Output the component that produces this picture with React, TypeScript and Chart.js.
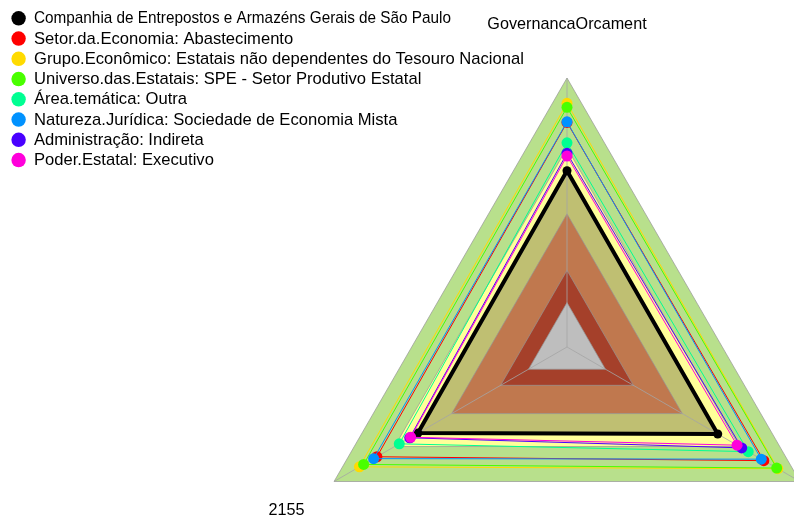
import React, { useEffect, useRef } from 'react';
import { Chart, registerables } from 'chart.js';

Chart.register(...registerables);

// Axis labels in clockwise order: top, bottom-right (off-canvas), bottom-left
const axisLabels = ['GovernancaOrcament', 'Indicador', '2155'];

const seriesNames = [
  'Companhia de Entrepostos e Armazéns Gerais de São Paulo',
  'Setor.da.Economia: Abastecimento',
  'Grupo.Econômico: Estatais não dependentes do Tesouro Nacional',
  'Universo.das.Estatais: SPE - Setor Produtivo Estatal',
  'Área.temática: Outra',
  'Natureza.Jurídica: Sociedade de Economia Mista',
  'Administração: Indireta',
  'Poder.Estatal: Executivo',
];

const seriesColors = ['#000000', '#FF0000', '#FFDB00', '#49FF00', '#00FF92', '#0092FF', '#4900FF', '#FF00DB'];

// values: [top, bottom-right, bottom-left]
const companhia = [65.5, 64.7, 64.0];
const setor = [83.5, 84.5, 81.6];
const grupo = [90.6, 90.5, 89.1];
const universo = [89.1, 90.0, 87.3];
const areaTematica = [75.9, 77.8, 72.0];
const natureza = [83.7, 83.4, 83.0];
const administracao = [72.0, 75.0, 67.5];
const poder = [71.0, 73.0, 67.1];

const seriesValues = [companhia, setor, grupo, universo, areaTematica, natureza, administracao, poder];

// background bands (upper limit of each band, inner to outer)
const bandLimits = [16.5, 28.5, 49.5, 64.5, 74, 100];
const bandColors = ['#BEBEBE', '#A5402A', '#C0784E', '#BFBF72', '#FFFF99', '#B8E08C'];

const FONT = "'Liberation Sans', Arial, sans-serif";

const bandsPlugin = {
  id: 'bands',
  beforeDatasetsDraw(chart: any) {
    const scale = chart.scales.r;
    const ctx = chart.ctx;
    const n = chart.data.labels.length;
    ctx.save();
    for (let b = bandLimits.length - 1; b >= 0; b--) {
      const dist = scale.getDistanceFromCenterForValue(bandLimits[b]);
      ctx.beginPath();
      for (let i = 0; i < n; i++) {
        const p = scale.getPointPosition(i, dist);
        if (i === 0) ctx.moveTo(p.x, p.y);
        else ctx.lineTo(p.x, p.y);
      }
      ctx.closePath();
      ctx.fillStyle = bandColors[b];
      ctx.fill();
      ctx.lineWidth = 1;
      ctx.strokeStyle = 'rgba(150,150,150,0.7)';
      ctx.stroke();
    }
    ctx.strokeStyle = 'rgba(165,165,165,0.8)';
    ctx.lineWidth = 1;
    for (let i = 0; i < n; i++) {
      const p = scale.getPointPosition(i, scale.drawingArea);
      ctx.beginPath();
      ctx.moveTo(scale.xCenter, scale.yCenter);
      ctx.lineTo(p.x, p.y);
      ctx.stroke();
    }
    ctx.restore();
  },
  afterDatasetsDraw(chart: any) {
    const scale = chart.scales.r;
    const ctx = chart.ctx;
    ctx.save();
    // axis labels
    ctx.font = `16.2px ${FONT}`;
    ctx.fillStyle = '#000';
    ctx.textAlign = 'center';
    ctx.textBaseline = 'middle';
    chart.data.labels.forEach((lbl: string, i: number) => {
      const p = scale.getPointPosition(i, scale.drawingArea + 55);
      ctx.fillText(lbl, p.x, p.y + 2);
    });
    // legend
    ctx.font = `16.6px ${FONT}`;
    ctx.textAlign = 'left';
    chart.data.datasets.forEach((ds: any, i: number) => {
      const y = 18.3 + i * 20.25;
      ctx.beginPath();
      ctx.arc(18.6, y, 7.2, 0, Math.PI * 2);
      ctx.fillStyle = seriesColors[i];
      ctx.fill();
      ctx.fillStyle = '#000';
      if (i === 0) ctx.fillText(ds.label, 34, y + 0.5, 417);
      else ctx.fillText(ds.label, 34, y + 0.5);
    });
    ctx.restore();
  },
};

export default function App() {
  const ref = useRef<HTMLCanvasElement>(null);
  useEffect(() => {
    if (!ref.current) return;
    const n = seriesValues.length;
    const chart = new Chart(ref.current, {
      type: 'radar',
      data: {
        labels: axisLabels,
        datasets: seriesValues.map((vals, i) => ({
          label: seriesNames[i],
          data: vals,
          borderColor: seriesColors[i],
          backgroundColor: seriesColors[i],
          pointBackgroundColor: seriesColors[i],
          pointBorderColor: seriesColors[i],
          pointBorderWidth: 0,
          pointRadius: i === 0 ? 4.5 : 5.5,
          borderWidth: i === 0 ? 4 : 1,
          fill: false,
          clip: false as any,
          order: n - 1 - i,
        })),
      },
      options: {
        responsive: false,
        animation: false,
        layout: { padding: 0 },
        plugins: {
          title: { display: false },
          tooltip: { enabled: false },
          legend: { display: false },
        },
        scales: {
          r: {
            min: 0,
            max: 100,
            ticks: { display: false },
            grid: { display: false },
            angleLines: { display: false },
            pointLabels: { display: false },
            afterFit: (scale: any) => {
              scale.xCenter = 567;
              scale.yCenter = 347;
              scale.drawingArea = 269;
            },
          },
        },
      },
      plugins: [bandsPlugin],
    });
    return () => chart.destroy();
  }, []);
  return (
    <div style={{ position: 'absolute', left: 0, top: 0, width: 794, height: 519, background: '#fff' }}>
      <canvas ref={ref} width={794} height={519} style={{ display: 'block' }} />
    </div>
  );
}
